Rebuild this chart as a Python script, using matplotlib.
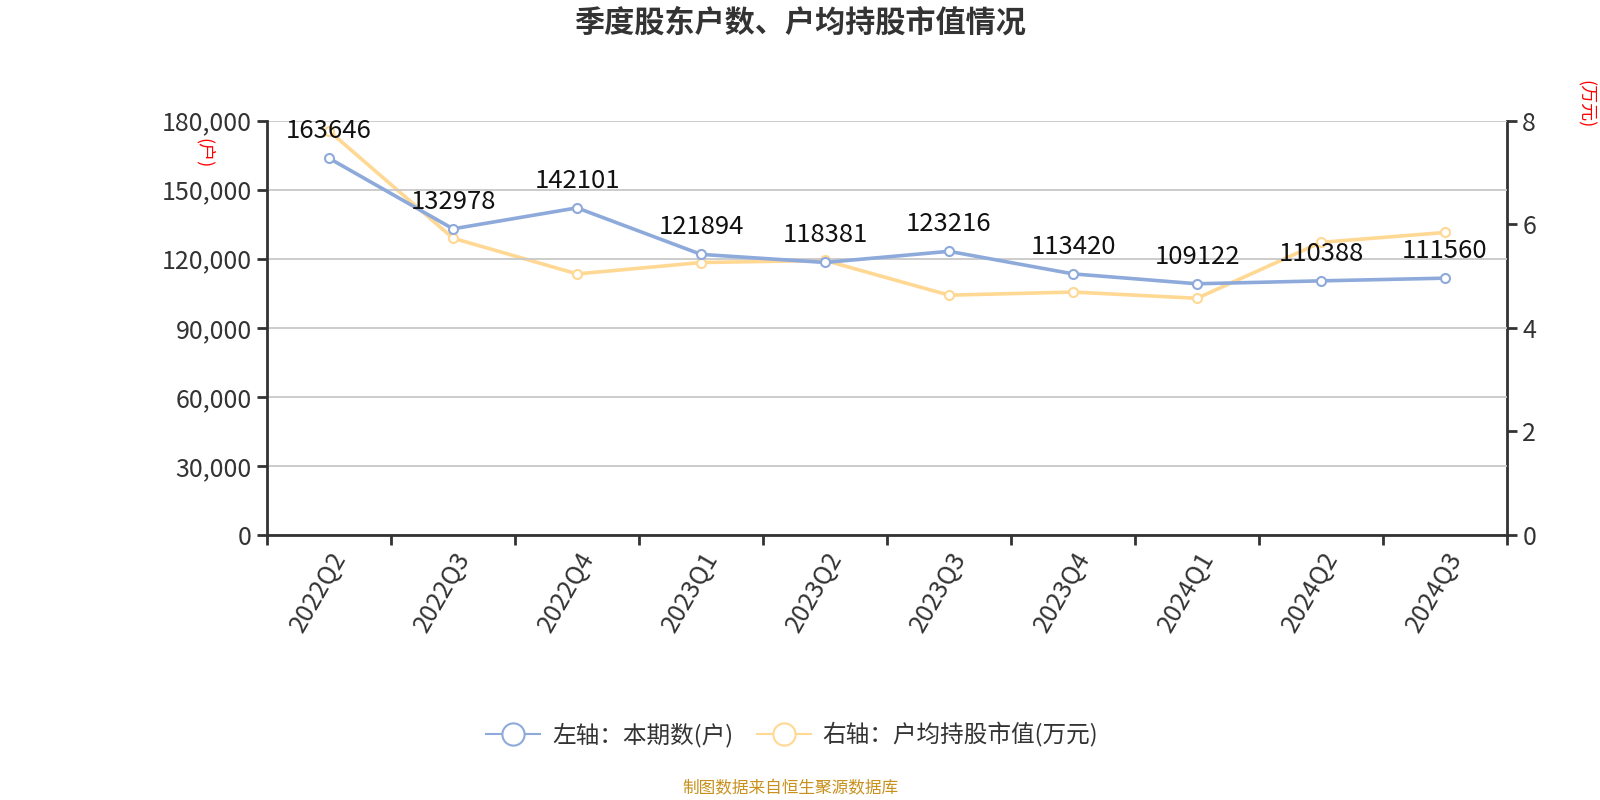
import matplotlib.pyplot as plt
from matplotlib.ticker import FuncFormatter, FixedLocator
from matplotlib.lines import Line2D

plt.rcParams['font.family'] = ['Noto Sans CJK SC', 'DejaVu Sans']

quarters = ['2022Q2', '2022Q3', '2022Q4', '2023Q1', '2023Q2',
            '2023Q3', '2023Q4', '2024Q1', '2024Q2', '2024Q3']
holders = [163646, 132978, 142101, 121894, 118381,
           123216, 113420, 109122, 110388, 111560]
avg_value = [7.80, 5.73, 5.04, 5.26, 5.30, 4.63, 4.69, 4.57, 5.65, 5.84]

blue = '#8eaadb'
yellow = '#ffd894'
axis_col = '#333333'

fig = plt.figure(figsize=(16, 8), dpi=100)
ax = fig.add_axes([0.1669, 0.33125, 0.775, 0.518])
ax2 = ax.twinx()

x = list(range(len(quarters)))
ax.plot(x, holders, color=blue, lw=2.6, marker='o', ms=6.5,
        mfc='white', mec=blue, mew=1.5, zorder=3)
ax2.plot(x, avg_value, color=yellow, lw=2.6, marker='o', ms=6.5,
         mfc='white', mec=yellow, mew=1.5, zorder=3)

for xi, v in zip(x, holders):
    ax.annotate(str(v), (xi, v), xytext=(0, 14), textcoords='offset pixels',
                ha='center', va='bottom', fontsize=18.5, color='#111111', zorder=5)

ax.set_xlim(-0.5, len(quarters) - 0.5)
ax.set_ylim(0, 180000)
ax2.set_ylim(0, 8)
ax.set_yticks(range(0, 180001, 30000))
ax2.set_yticks(range(0, 9, 2))
ax.yaxis.set_major_formatter(FuncFormatter(lambda v, p: f'{int(v):,}'))

ax.set_xticks(x)
ax.set_xticklabels(quarters, rotation=60, ha='right', rotation_mode='anchor')
ax.xaxis.set_minor_locator(FixedLocator([i - 0.5 for i in range(len(quarters) + 1)]))
ax.tick_params(axis='x', which='major', length=0, pad=9, labelsize=18, labelcolor=axis_col)
ax.tick_params(axis='x', which='minor', length=7, width=2, color=axis_col)
ax.tick_params(axis='y', length=7, width=2, color=axis_col, labelsize=18,
               labelcolor=axis_col, pad=4)
ax2.tick_params(axis='y', length=7, width=2, color=axis_col, labelsize=18,
                labelcolor=axis_col, pad=4)

ax.grid(axis='y', color='#c8c8c8', lw=1.3)
ax.set_axisbelow(True)
ax.set_zorder(ax2.get_zorder() + 1)
ax.patch.set_visible(False)

for a in (ax, ax2):
    a.spines['top'].set_visible(False)
    for s in ('left', 'right', 'bottom'):
        a.spines[s].set_color(axis_col)
        a.spines[s].set_linewidth(2)
ax.spines['right'].set_visible(False)
ax2.spines['left'].set_visible(False)
ax2.spines['bottom'].set_visible(False)

fig.text(0.1275, 0.809, '(户)', color='red', fontsize=13, rotation=-90,
         ha='center', va='center')
fig.text(0.9906, 0.87, '(万元)', color='red', fontsize=13, rotation=-90,
         ha='center', va='center')

fig.text(0.5, 0.972, '季度股东户数、户均持股市值情况', fontsize=21.7,
         fontweight='bold', color='#333333', ha='center', va='center')

handles = [
    Line2D([], [], color=blue, lw=1.5, marker='o', ms=16, mfc='white', mec=blue, mew=1.5),
    Line2D([], [], color=yellow, lw=1.5, marker='o', ms=16, mfc='white', mec=yellow, mew=1.5),
]
fig.legend(handles, ['左轴：本期数(户)', '右轴：户均持股市值(万元)'],
           loc='center', bbox_to_anchor=(0.495, 0.081), ncol=2, frameon=False,
           fontsize=17, labelcolor='#333333', handlelength=2.3,
           columnspacing=1.0, handletextpad=0.5)

fig.text(0.494, 0.014, '制图数据来自恒生聚源数据库', fontsize=12,
         color='#c8901c', ha='center', va='center')

fig.savefig('out.png', dpi=100)
